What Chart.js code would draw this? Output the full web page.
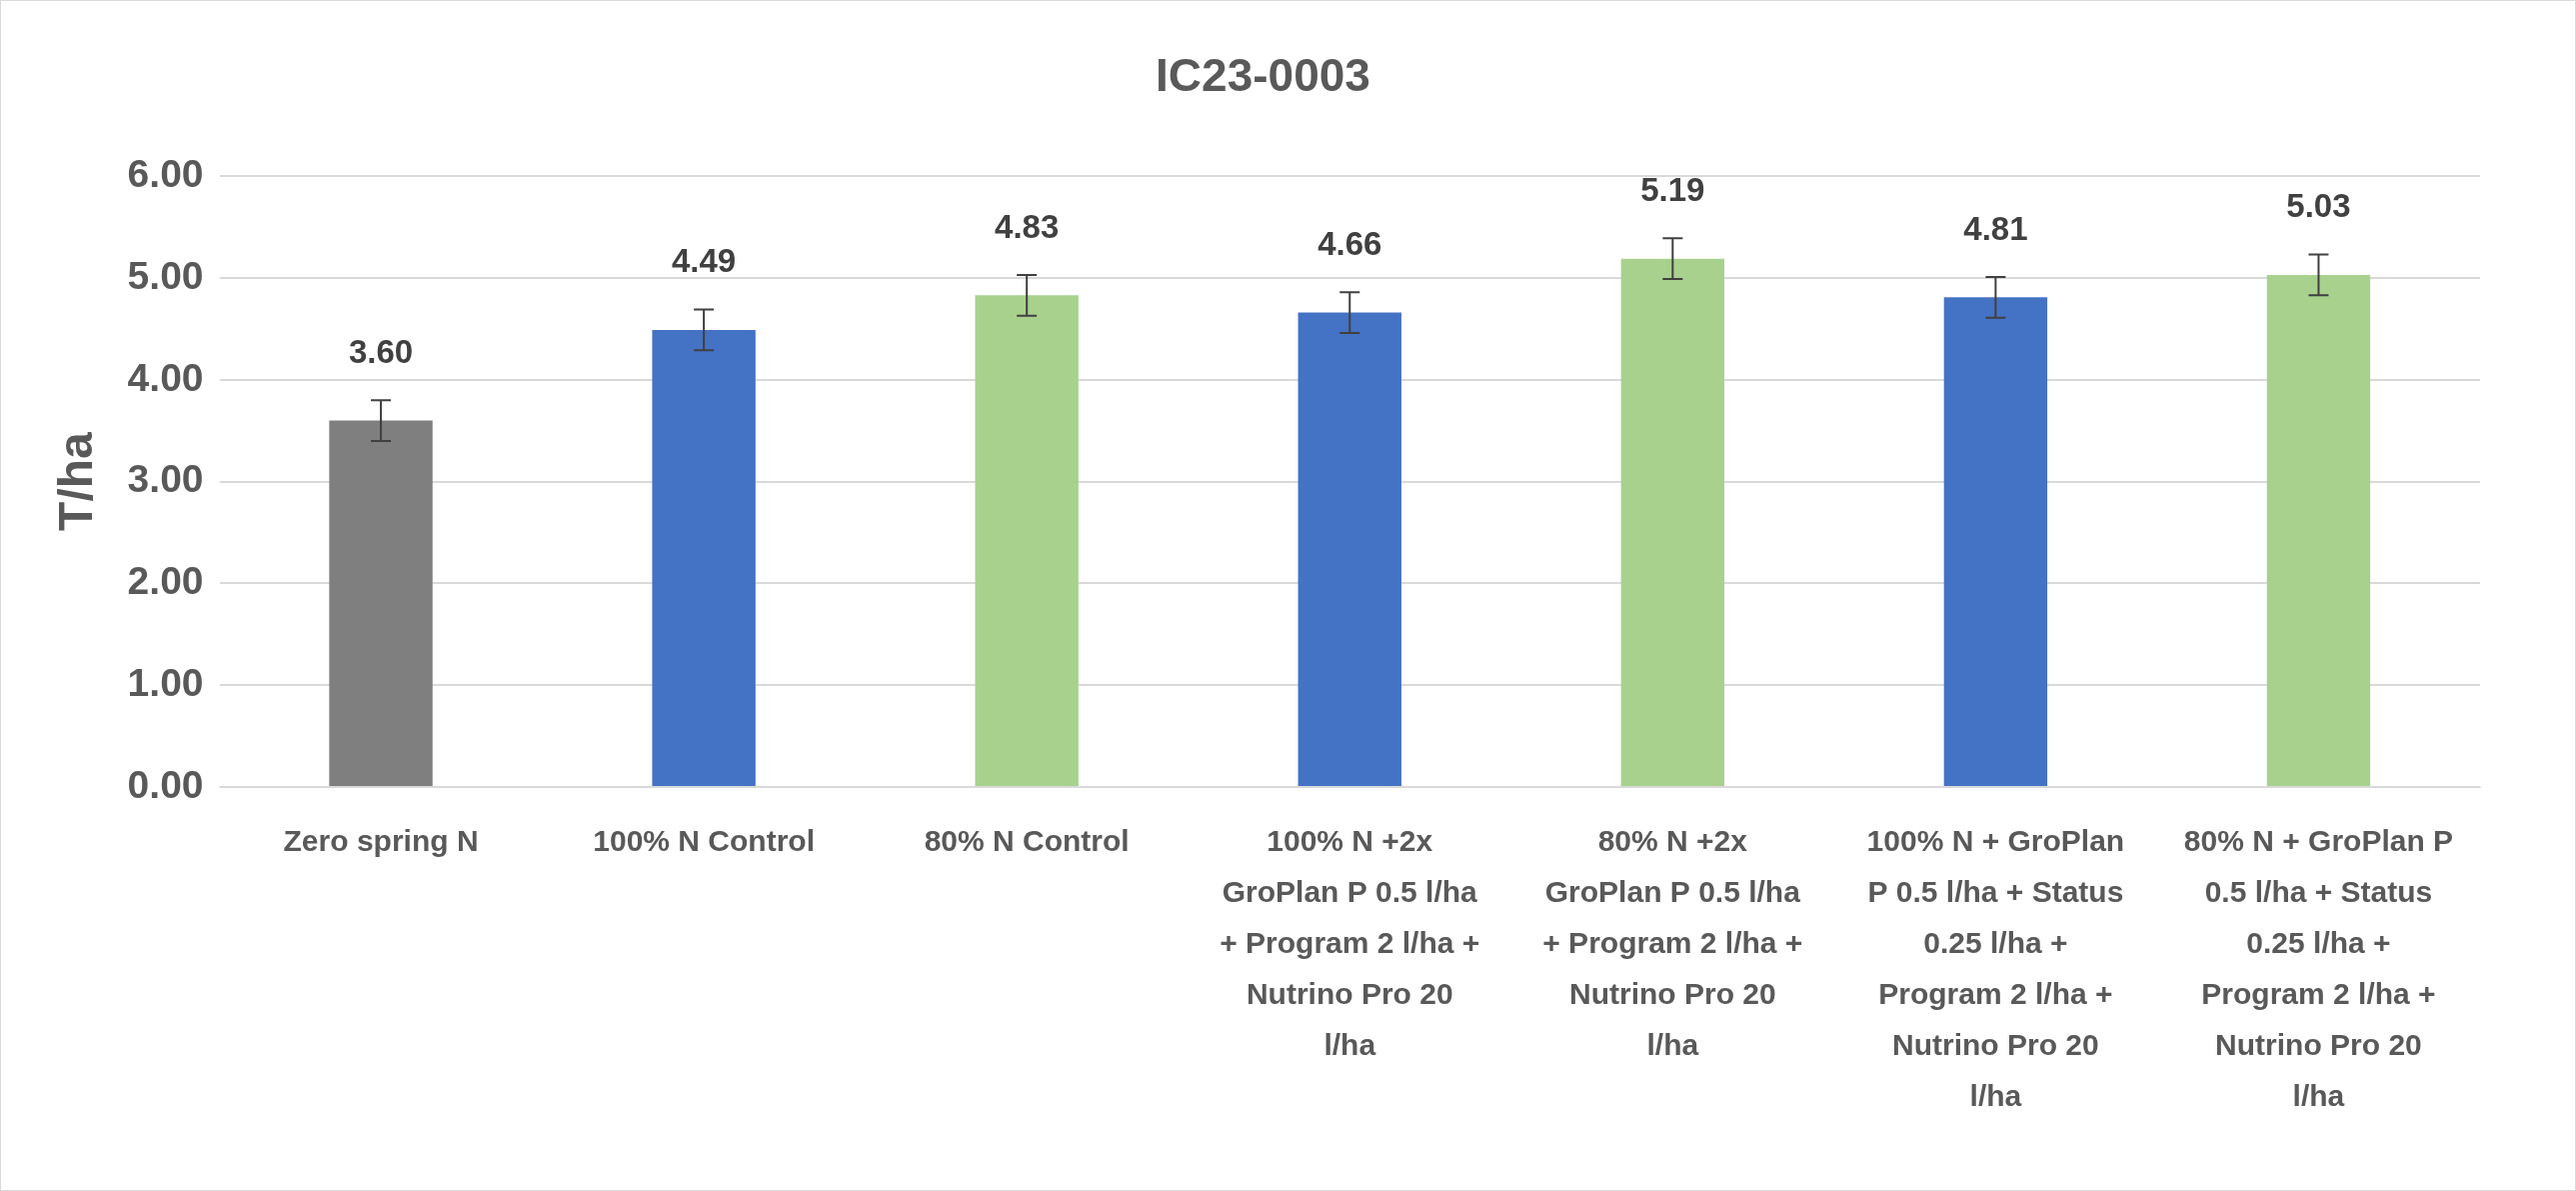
<!DOCTYPE html>
<html>
<head>
<meta charset="utf-8">
<script src="https://cdn.jsdelivr.net/npm/chart.js@4"></script>
<style>
  html, body { margin: 0; padding: 0; background: #fff; }
  #wrap { width: 2575px; height: 1189px; border: 1px solid #d9d9d9; }
</style>
</head>
<body>
<div id="wrap"><canvas id="yieldChart" width="2575" height="1189"></canvas></div>
<script>
const labels = [
  ['Zero spring N'],
  ['100% N Control'],
  ['80% N Control'],
  ['100% N +2x', 'GroPlan P 0.5 l/ha', '+ Program 2 l/ha +', 'Nutrino Pro 20', 'l/ha'],
  ['80% N +2x', 'GroPlan P 0.5 l/ha', '+ Program 2 l/ha +', 'Nutrino Pro 20', 'l/ha'],
  ['100% N + GroPlan', 'P 0.5 l/ha + Status', '0.25 l/ha +', 'Program 2 l/ha +', 'Nutrino Pro 20', 'l/ha'],
  ['80% N + GroPlan P', '0.5 l/ha + Status', '0.25 l/ha +', 'Program 2 l/ha +', 'Nutrino Pro 20', 'l/ha']
];
const values = [3.60, 4.49, 4.83, 4.66, 5.19, 4.81, 5.03];
const errors = [0.2, 0.2, 0.2, 0.2, 0.2, 0.2, 0.2];
const colors = ['#7f7f7f', '#4472c4', '#a9d18e', '#4472c4', '#a9d18e', '#4472c4', '#a9d18e'];
const txt = '#595959';
const font = 'Liberation Sans, Arial, sans-serif';

// error bars + value labels
const extras = {
  id: 'extras',
  afterDatasetsDraw(chart) {
    const ctx = chart.ctx;
    const y = chart.scales.y;
    const meta = chart.getDatasetMeta(0);
    ctx.save();
    meta.data.forEach((bar, i) => {
      const hi = y.getPixelForValue(values[i] + errors[i]);
      const lo = y.getPixelForValue(values[i] - errors[i]);
      ctx.strokeStyle = '#404040';
      ctx.lineWidth = 2;
      ctx.beginPath();
      ctx.moveTo(bar.x, hi); ctx.lineTo(bar.x, lo);
      ctx.moveTo(bar.x - 10, hi); ctx.lineTo(bar.x + 10, hi);
      ctx.moveTo(bar.x - 10, lo); ctx.lineTo(bar.x + 10, lo);
      ctx.stroke();
      ctx.fillStyle = '#404040';
      ctx.font = 'bold 33px ' + font;
      ctx.textAlign = 'center';
      ctx.textBaseline = 'bottom';
      ctx.fillText(values[i].toFixed(2), bar.x, hi - 30);
    });
    ctx.restore();
  }
};

new Chart(document.getElementById('yieldChart').getContext('2d'), {
  type: 'bar',
  data: {
    labels: labels,
    datasets: [{
      data: values,
      backgroundColor: colors,
      barPercentage: 0.32,
      categoryPercentage: 1
    }]
  },
  options: {
    responsive: false,
    animation: false,
    layout: { padding: { left: 45, right: 95, top: 20, bottom: 45 } },
    plugins: {
      legend: { display: false },
      tooltip: { enabled: false },
      title: {
        display: true,
        text: 'IC23-0003',
        color: txt,
        font: { family: font, size: 46, weight: 'bold' },
        padding: { top: 30, bottom: 70 }
      }
    },
    scales: {
      x: {
        grid: { display: false },
        border: { color: '#d9d9d9' },
        ticks: { color: txt, font: { family: font, size: 30, weight: 'bold', lineHeight: 1.7 }, maxRotation: 0, autoSkip: false, padding: 22 }
      },
      y: {
        min: 0, max: 6,
        grid: { color: '#d9d9d9', lineWidth: 2, drawTicks: false },
        border: { display: false },
        title: { display: true, text: 'T/ha', color: txt, font: { family: font, size: 48, weight: 'bold' } },
        ticks: { stepSize: 1, color: txt, padding: 16, font: { family: font, size: 39, weight: 'bold' }, callback: v => v.toFixed(2) }
      }
    }
  },
  plugins: [extras]
});
</script>
</body>
</html>
